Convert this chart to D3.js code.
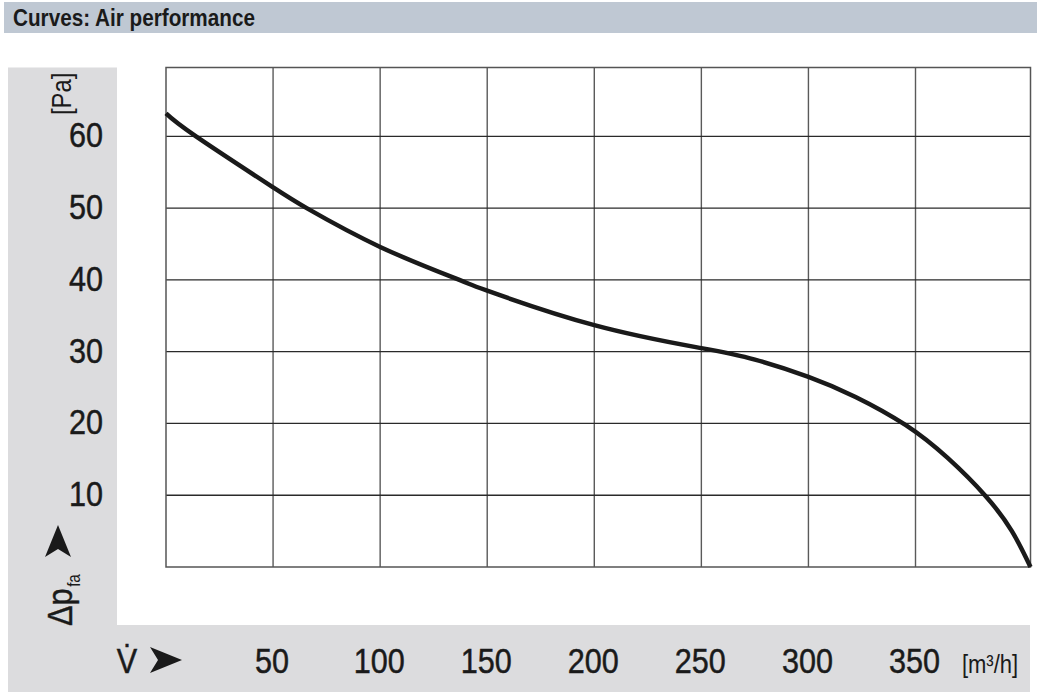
<!DOCTYPE html>
<html><head><meta charset="utf-8">
<script src="https://cdn.jsdelivr.net/npm/d3@7"></script>
<style>
html,body{margin:0;padding:0;background:#fff;}
svg text{font-family:"Liberation Sans Narrow","Arial Narrow","Liberation Sans",Arial,sans-serif;fill:#1a1a1a;}
</style></head>
<body>
<svg id="chart" width="1037" height="697"></svg>
<script>
// ---- data ----
const chartTitle = "Curves: Air performance";
const flow = [0, 14, 50, 65.7, 100, 137, 150, 200, 250, 275, 300, 322, 345.3, 365, 382.7, 395, 403.7];
const pressure = [63.2, 60, 52.9, 50, 44.6, 40, 38.5, 33.7, 30.5, 28.9, 26.5, 23.7, 19.8, 15.2, 9.9, 5.0, 0];
const xTicks = [50, 100, 150, 200, 250, 300, 350];
const yTicks = [10, 20, 30, 40, 50, 60];
const xUnit = "[m³/h]";
const yUnit = "[Pa]";

// ---- layout ----
const svg = d3.select("#chart");
const plot = {left: 166, right: 1030.5, top: 67.5, bottom: 567};
const xMax = 403.7, yMax = 69.6;
const x = d3.scaleLinear().domain([0, xMax]).range([plot.left, plot.right]);
const y = d3.scaleLinear().domain([0, yMax]).range([plot.bottom, plot.top]);

// title bar
svg.append("rect").attr("x", 4).attr("y", 2).attr("width", 1033).attr("height", 31).attr("fill", "#bfc8d3");
svg.append("text").attr("transform", "translate(13,26) scale(0.9,1)")
  .attr("font-size", 23).attr("font-weight", "bold").attr("fill", "#111").text(chartTitle);

// gray L-shaped axis panels
svg.append("path")
  .attr("d", "M8,67.5 H117 V625 H1030 V692 H8 Z")
  .attr("fill", "#dcdcde");

// grid
const g = svg.append("g");
g.selectAll("line.v").data(xTicks).join("line")
  .attr("x1", d => x(d)).attr("x2", d => x(d))
  .attr("y1", plot.top).attr("y2", plot.bottom)
  .attr("stroke", "#5a5a5a").attr("stroke-width", 1.4);
g.selectAll("line.h").data(yTicks).join("line")
  .attr("x1", plot.left).attr("x2", plot.right)
  .attr("y1", d => y(d)).attr("y2", d => y(d))
  .attr("stroke", "#2a2a2a").attr("stroke-width", 1.3);
g.append("rect").attr("x", plot.left).attr("y", plot.top)
  .attr("width", plot.right - plot.left).attr("height", plot.bottom - plot.top)
  .attr("fill", "none").attr("stroke", "#555").attr("stroke-width", 1.5);

// curve
const pts = flow.map((f, i) => [f, pressure[i]]);
svg.append("path").datum(pts)
  .attr("d", d3.line().x(d => x(d[0])).y(d => y(d[1])).curve(d3.curveNatural))
  .attr("fill", "none").attr("stroke", "#1a1a1a").attr("stroke-width", 4.5);

// y tick labels
svg.selectAll("text.yt").data(yTicks).join("text")
  .attr("class", "yt")
  .attr("transform", d => `translate(103,${y(d) - 2}) scale(0.85,1)`)
  .attr("dy", "0.36em")
  .attr("text-anchor", "end").attr("font-size", 36)
  .attr("stroke", "#1a1a1a").attr("stroke-width", 0.5)
  .text(d => d);

// x tick labels
svg.selectAll("text.xt").data(xTicks).join("text")
  .attr("class", "xt")
  .attr("transform", d => `translate(${x(d) - 1},660) scale(0.85,1)`)
  .attr("dy", "0.36em")
  .attr("text-anchor", "middle").attr("font-size", 36)
  .attr("stroke", "#1a1a1a").attr("stroke-width", 0.5)
  .text(d => d);

// x unit
svg.append("text").attr("transform", "translate(990,673) scale(0.88,1)")
  .attr("text-anchor", "middle").attr("font-size", 25).text(xUnit);

// x axis symbol and arrow
svg.append("text").attr("transform", "translate(127,673) scale(0.85,1)")
  .attr("text-anchor", "middle").attr("font-size", 36)
  .attr("stroke", "#1a1a1a").attr("stroke-width", 0.5).text("V̇");
svg.append("path").attr("d", "M150,647 L182,660 L150,673 L158,660 Z").attr("fill", "#1a1a1a");

// y axis label (rotated)
const yl = svg.append("text").attr("transform", "translate(72,626) rotate(-90) scale(0.85,1)")
  .attr("font-size", 36).attr("stroke", "#1a1a1a").attr("stroke-width", 0.4);
yl.append("tspan").text("Δp");
yl.append("tspan").attr("font-size", 18).attr("dy", 8).attr("dx", 2).attr("stroke-width", 0).text("fa");
svg.append("path").attr("d", "M58,525 L71,557 L58,549 L45,557 Z").attr("fill", "#1a1a1a");

// y unit (rotated)
svg.append("text").attr("transform", "translate(71,115) rotate(-90) scale(0.85,1)")
  .attr("font-size", 28).text(yUnit);
</script>
</body></html>
